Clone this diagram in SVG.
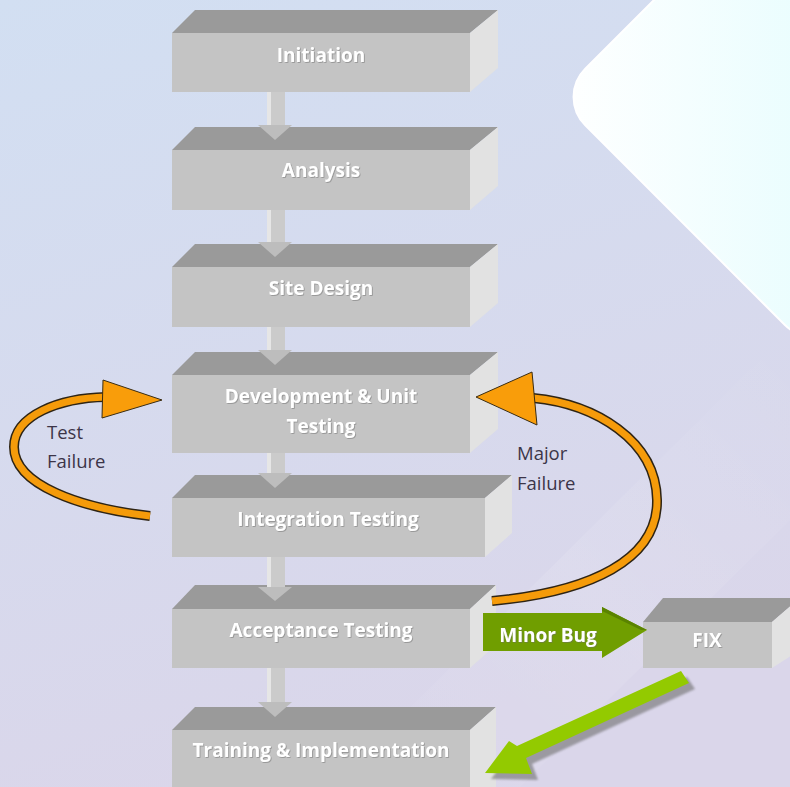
<svg xmlns="http://www.w3.org/2000/svg" width="790" height="787" viewBox="0 0 790 787">
<defs>
<linearGradient id="bg" x1="0" y1="0" x2="0.3" y2="1">
<stop offset="0" stop-color="#d2dff2"/>
<stop offset="1" stop-color="#dad6ea"/>
</linearGradient>
<linearGradient id="card" x1="0" y1="0" x2="1" y2="1">
<stop offset="0" stop-color="#ffffff"/>
<stop offset="1" stop-color="#d4fbfd"/>
</linearGradient>
<linearGradient id="band" x1="0" y1="1" x2="1" y2="0">
<stop offset="0" stop-color="#ffffff" stop-opacity="0"/>
<stop offset="0.5" stop-color="#ffffff" stop-opacity="0.1"/>
<stop offset="1" stop-color="#ffffff" stop-opacity="0"/>
</linearGradient>
<filter id="ts" x="-10%" y="-30%" width="120%" height="160%">
<feDropShadow dx="0.8" dy="0.8" stdDeviation="0.6" flood-color="#6b6b6b" flood-opacity="0.6"/>
</filter>
<filter id="sh" x="-10%" y="-10%" width="130%" height="130%">
<feGaussianBlur stdDeviation="1.2"/>
</filter>
</defs>
<style>
.front{fill:#c4c4c4;}
.top{fill:#9a9a9a;}
.side{fill:#e2e2e2;}
.lbl{font-family:"Open Sans","Liberation Sans",sans-serif;font-weight:bold;font-size:19px;fill:#ffffff;text-anchor:middle;}
.note{font-family:"Open Sans","Liberation Sans",sans-serif;font-size:18.5px;fill:#3c3548;}
.shaft{fill:#cbcbcb;}
.hl{fill:#e6e6e6;}
.head{fill:#bdbdbd;}
</style>
<rect x="0" y="0" width="790" height="787" fill="url(#bg)"/>
<polygon points="330,787 520,787 790,520 790,330" fill="url(#band)"/>
<rect x="0" y="0" width="362" height="362" rx="40" transform="translate(557,97) rotate(-45)" fill="url(#card)" stroke="#ffffff" stroke-width="2"/>

<g id="node-initiation">
<polygon class="top" points="172,33 195,10 498,10 470,33"/>
<polygon class="side" points="470,33 498,10 498,68 470,92"/>
<rect class="front" x="172" y="33" width="298" height="59"/>
<text class="lbl" x="321" y="62" filter="url(#ts)">Initiation</text>
</g>
<g id="node-analysis">
<polygon class="top" points="172,150 195,127 498,127 470,150"/>
<polygon class="side" points="470,150 498,127 498,186 470,210"/>
<rect class="front" x="172" y="150" width="298" height="60"/>
<text class="lbl" x="321" y="177" filter="url(#ts)">Analysis</text>
</g>
<g id="node-site-design">
<polygon class="top" points="172,267 195,244 498,244 470,267"/>
<polygon class="side" points="470,267 498,244 498,303 470,327"/>
<rect class="front" x="172" y="267" width="298" height="60"/>
<text class="lbl" x="321" y="295" filter="url(#ts)">Site Design</text>
</g>
<g id="node-development">
<polygon class="top" points="172,375 195,352 498,352 470,375"/>
<polygon class="side" points="470,375 498,352 498,429 470,453"/>
<rect class="front" x="172" y="375" width="298" height="78"/>
<text class="lbl" x="321" y="403" filter="url(#ts)">Development &amp; Unit</text>
<text class="lbl" x="321" y="433" filter="url(#ts)">Testing</text>
</g>
<g id="node-integration">
<polygon class="top" points="172,498 195,475 512,475 485,498"/>
<polygon class="side" points="485,498 512,475 512,533 485,557"/>
<rect class="front" x="172" y="498" width="313" height="59"/>
<text class="lbl" x="328" y="526" filter="url(#ts)">Integration Testing</text>
</g>
<g id="node-acceptance">
<polygon class="top" points="172,609 195,585 496,585 470,609"/>
<polygon class="side" points="470,609 496,585 496,645 470,668"/>
<rect class="front" x="172" y="609" width="298" height="59"/>
<text class="lbl" x="321" y="637" filter="url(#ts)">Acceptance Testing</text>
</g>
<g id="node-training">
<polygon class="top" points="172,730 195,707 496,707 470,730"/>
<polygon class="side" points="470,730 496,707 496,787 470,787"/>
<rect class="front" x="172" y="730" width="298" height="57"/>
<text class="lbl" x="321" y="757" filter="url(#ts)">Training &amp; Implementation</text>
</g>
<g id="node-fix">
<polygon class="top" points="643,622 663,598 800,598 772,622"/>
<polygon class="side" points="772,622 800,598 800,650 772,668"/>
<rect class="front" x="643" y="622" width="129" height="46"/>
<text class="lbl" x="707" y="647" filter="url(#ts)">FIX</text>
</g>

<g id="notes">
<text class="note" x="47" y="439">Test</text>
<text class="note" x="47" y="468">Failure</text>
<text class="note" x="517" y="460">Major</text>
<text class="note" x="517" y="490">Failure</text>
</g>

<g id="connectors">
<g id="down-arrows">
<rect class="shaft" x="267" y="92" width="18" height="33"/><rect class="hl" x="267" y="92" width="4" height="33"/><polygon class="head" points="258,125 292,125 275,140"/>
<rect class="shaft" x="267" y="210" width="18" height="32"/><rect class="hl" x="267" y="210" width="4" height="32"/><polygon class="head" points="258,242 292,242 275,257"/>
<rect class="shaft" x="267" y="327" width="18" height="23"/><rect class="hl" x="267" y="327" width="4" height="23"/><polygon class="head" points="258,350 292,350 275,365"/>
<rect class="shaft" x="267" y="453" width="18" height="20"/><rect class="hl" x="267" y="453" width="4" height="20"/><polygon class="head" points="258,473 292,473 275,488"/>
<rect class="shaft" x="267" y="557" width="18" height="30"/><rect class="hl" x="267" y="557" width="4" height="30"/><polygon class="head" points="258,587 292,587 275,601"/>
<rect class="shaft" x="267" y="668" width="18" height="34"/><rect class="hl" x="267" y="668" width="4" height="34"/><polygon class="head" points="258,702 292,702 275,717"/>
</g>
<g id="test-failure">
<path d="M150,516 C80,508 14,485 14,447 C14,415 60,398 106,397" fill="none" stroke="#2e2414" stroke-width="10"/>
<path d="M150,516 C80,508 14,485 14,447 C14,415 60,398 106,397" fill="none" stroke="#f59b0a" stroke-width="7"/>
<polygon points="103,380 162,400 102,418" fill="#f99d0a" stroke="#3a2c12" stroke-width="1"/>
</g>
<g id="major-failure">
<path d="M492,601 C590,592 658,560 657,500 C656,440 595,404 533,398" fill="none" stroke="#2e2414" stroke-width="10"/>
<path d="M492,601 C590,592 658,560 657,500 C656,440 595,404 533,398" fill="none" stroke="#f59b0a" stroke-width="7"/>
<polygon points="532,372 476,397 537,425" fill="#f99d0a" stroke="#3a2c12" stroke-width="1"/>
</g>
<g id="minor-bug">
<polygon points="483,613 602,613 602,607 647,630 602,658 602,651 483,651" fill="#709e00"/>
<polygon points="602,607 647,630 641,630 602,611" fill="#5a8300"/>
<text class="lbl" x="548" y="642" font-size="20" filter="url(#ts)">Minor Bug</text>
</g>
<g id="fix-to-training">
<polygon points="692,686 529,761 535,777 488,776 512,744 520,749 684,674" fill="#6f6f6f" opacity="0.6" filter="url(#sh)" transform="translate(3,3)"/>
<polygon points="689,683 526,758 532,774 485,773 509,741 517,746 681,671" fill="#93ca00"/>
</g>
</g>
</svg>
